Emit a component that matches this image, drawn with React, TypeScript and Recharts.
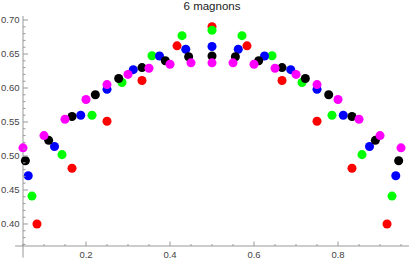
import React from "react";
import { ScatterChart, Scatter, XAxis, YAxis, ZAxis, ReferenceLine } from "recharts";

// x positions (k/N) and values for each series
const xRed = [0.0833, 0.1667, 0.25, 0.3333, 0.4167, 0.5, 0.5833, 0.6667, 0.75, 0.8333, 0.9167];
const yRed = [0.4, 0.482, 0.551, 0.611, 0.662, 0.69, 0.662, 0.611, 0.551, 0.482, 0.4];

const xGreen = [0.0714, 0.1429, 0.2143, 0.2857, 0.3571, 0.4286, 0.5, 0.5714, 0.6429, 0.7143, 0.7857, 0.8571, 0.9286];
const yGreen = [0.441, 0.502, 0.56, 0.608, 0.6475, 0.677, 0.685, 0.677, 0.6475, 0.608, 0.56, 0.502, 0.441];

const xBlue = [0.0625, 0.125, 0.1875, 0.25, 0.3125, 0.375, 0.4375, 0.5, 0.5625, 0.625, 0.6875, 0.75, 0.8125, 0.875, 0.9375];
const yBlue = [0.471, 0.514, 0.56, 0.598, 0.627, 0.647, 0.657, 0.661, 0.657, 0.647, 0.627, 0.598, 0.56, 0.514, 0.471];

const xBlack = [0.0556, 0.1111, 0.1667, 0.2222, 0.2778, 0.3333, 0.3889, 0.4444, 0.5, 0.5556, 0.6111, 0.6667, 0.7222, 0.7778, 0.8333, 0.8889, 0.9444];
const yBlack = [0.493, 0.523, 0.558, 0.59, 0.614, 0.63, 0.64, 0.646, 0.647, 0.646, 0.64, 0.63, 0.614, 0.59, 0.558, 0.523, 0.493];

const xMagenta = [0.05, 0.1, 0.15, 0.2, 0.25, 0.3, 0.35, 0.4, 0.45, 0.5, 0.55, 0.6, 0.65, 0.7, 0.75, 0.8, 0.85, 0.9, 0.95];
const yMagenta = [0.512, 0.53, 0.554, 0.583, 0.605, 0.62, 0.629, 0.635, 0.637, 0.637, 0.637, 0.635, 0.629, 0.62, 0.605, 0.583, 0.554, 0.53, 0.512];

const xTicks = [0.05, 0.1, 0.15, 0.2, 0.25, 0.3, 0.35, 0.4, 0.45, 0.5, 0.55, 0.6, 0.65, 0.7, 0.75, 0.8, 0.85, 0.9, 0.95];
const xMajor = [0.2, 0.4, 0.6, 0.8];
const yTicks = [0.37, 0.38, 0.39, 0.4, 0.41, 0.42, 0.43, 0.44, 0.45, 0.46, 0.47, 0.48, 0.49, 0.5, 0.51, 0.52, 0.53, 0.54, 0.55, 0.56, 0.57, 0.58, 0.59, 0.6, 0.61, 0.62, 0.63, 0.64, 0.65, 0.66, 0.67, 0.68, 0.69, 0.7];
const yMajor = [0.4, 0.45, 0.5, 0.55, 0.6, 0.65, 0.7];

const title = "6 magnons";

const zip = (xs: number[], ys: number[]) => xs.map((x, i) => ({ x, y: ys[i] }));

const series = [
  { name: "N12", data: zip(xRed, yRed), color: "#ff0000" },
  { name: "N14", data: zip(xGreen, yGreen), color: "#00ff00" },
  { name: "N16", data: zip(xBlue, yBlue), color: "#0000ff" },
  { name: "N18", data: zip(xBlack, yBlack), color: "#000000" },
  { name: "N20", data: zip(xMagenta, yMagenta), color: "#ff00ff" },
];

const AXIS = "#999999";
const LABEL = "#444444";
const FONT = "'Liberation Sans', Arial, sans-serif";

const near = (a: number, b: number) => Math.abs(a - b) < 1e-6;

const XTick = (props: any) => {
  const { x, y, payload } = props;
  const major = xMajor.some((m) => near(m, payload.value));
  return (
    <g>
      <line x1={x} x2={x} y1={y} y2={y - (major ? 4.5 : 2)} stroke={AXIS} strokeWidth={1} />
      {major && (
        <text x={x} y={y + 12.3} textAnchor="middle" fontSize={9.5} fill={LABEL} fontFamily={FONT}>
          {String(payload.value)}
        </text>
      )}
    </g>
  );
};

const YTick = (props: any) => {
  const { x, y, payload } = props;
  const major = yMajor.some((m) => near(m, payload.value));
  return (
    <g>
      <line x1={x} x2={x + (major ? 5 : 2.5)} y1={y} y2={y} stroke={AXIS} strokeWidth={1} />
      {major && (
        <text x={x - 3.5} y={y} dy="0.35em" textAnchor="end" fontSize={9.5} fill={LABEL} fontFamily={FONT}>
          {payload.value.toFixed(2)}
        </text>
      )}
    </g>
  );
};

export default function App() {
  return (
    <div style={{ position: "absolute", left: 0, top: 0, width: 409, height: 261, background: "#fff" }}>
      <div
        style={{
          position: "absolute",
          left: 0,
          top: 0,
          width: 424,
          textAlign: "center",
          fontFamily: FONT,
          fontSize: 11.5,
          lineHeight: "12px",
          color: "#222",
        }}
      >
        {title}
      </div>
      <ScatterChart width={409} height={261} margin={{ top: 16, right: 0, bottom: 0, left: 0 }}>
        <XAxis
          type="number"
          dataKey="x"
          domain={[0.05, 0.969]}
          ticks={xTicks}
          interval={0}
          height={15}
          axisLine={false}
          tickLine={false}
          tickSize={0}
          tickMargin={0}
          tick={<XTick />}
        />
        <YAxis
          type="number"
          dataKey="y"
          domain={[0.3676, 0.7059]}
          ticks={yTicks}
          interval={0}
          width={23}
          axisLine={false}
          tickLine={false}
          tickSize={0}
          tickMargin={0}
          tick={<YTick />}
        />
        <ZAxis range={[50, 50]} />
        <ReferenceLine
          segment={[{ x: 0.031, y: 0.3676 }, { x: 0.969, y: 0.3676 }]}
          stroke={AXIS}
          strokeWidth={1}
          ifOverflow="visible"
        />
        <ReferenceLine
          segment={[{ x: 0.05, y: 0.3505 }, { x: 0.05, y: 0.7059 }]}
          stroke={AXIS}
          strokeWidth={1}
          ifOverflow="visible"
        />
        {series.map((s) => (
          <Scatter key={s.name} name={s.name} data={s.data} fill={s.color} isAnimationActive={false} />
        ))}
      </ScatterChart>
    </div>
  );
}
